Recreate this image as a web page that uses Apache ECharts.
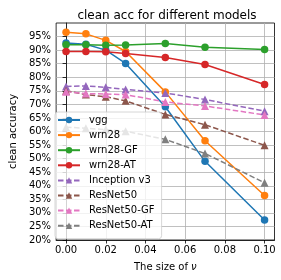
<!DOCTYPE html>
<html>
<head>
<meta charset="utf-8">
<script src="https://cdn.jsdelivr.net/npm/echarts@6/dist/echarts.min.js"></script>
<style>html,body{margin:0;padding:0;background:#fff}#c{width:281px;height:280px}</style>
</head>
<body>
<div id="c"></div>
<script>
var xs = [0.00, 0.01, 0.02, 0.03, 0.05, 0.07, 0.10];
var xTicks = [0.00, 0.02, 0.04, 0.06, 0.08, 0.10];
var yTicks = [20,25,30,35,40,45,50,55,60,65,70,75,80,85,90,95];
var names = ['vgg','wrn28','wrn28-GF','wrn28-AT','Inception v3','ResNet50','ResNet50-GF','ResNet50-AT'];
var vgg        = [92.6, 92.2, 90.0, 85.1, 69.1, 49.0, 27.4];
var wrn28      = [96.6, 96.0, 93.6, 89.5, 74.6, 56.6, 36.4];
var wrn28GF    = [92.0, 92.0, 91.8, 91.9, 92.4, 91.1, 90.2];
var wrn28AT    = [89.5, 89.5, 89.4, 88.8, 87.3, 84.7, 77.3];
var inception  = [76.6, 76.8, 76.3, 75.5, 74.2, 71.8, 67.5];
var resnet50   = [75.0, 73.6, 72.8, 71.3, 66.3, 62.5, 54.9];
var resnet50GF = [74.7, 74.0, 73.8, 73.6, 70.9, 69.4, 66.1];
var resnet50AT = [61.6, 61.2, 60.7, 60.1, 57.1, 51.9, 41.1];
var values = [vgg, wrn28, wrn28GF, wrn28AT, inception, resnet50, resnet50GF, resnet50AT];
var colors = ['#1f77b4','#ff7f0e','#2ca02c','#d62728','#9467bd','#8c564b','#e377c2','#7f7f7f'];

var series = names.map(function(n, i){
  var dashed = i >= 4;
  return {
    name: n, type: 'line',
    data: xs.map(function(x, j){ return [x, values[i][j]]; }),
    symbol: dashed ? 'triangle' : 'circle',
    symbolSize: dashed ? 8 : 7.5,
    showAllSymbol: true,
    lineStyle: {color: colors[i], width: 1.5, type: dashed ? [5.5, 2.5] : 'solid'},
    itemStyle: {color: colors[i], borderWidth: 0},
    emphasis: {disabled: true},
    animation: false
  };
});

var chart = echarts.init(document.getElementById('c'));
var font = 'DejaVu Sans';
chart.setOption({
  animation: false,
  title: {text: 'clean acc for different models', left: 162, top: 5, textAlign: 'center',
    textStyle: {fontFamily: font, fontSize: 12, fontWeight: 'normal', color: '#000'}},
  grid: {left: 49.5, right: 6.5, top: 23, bottom: 40, show: true, borderColor: '#000', borderWidth: 0.8, backgroundColor: 'transparent'},
  legend: {
    orient: 'vertical', left: 55, top: 112,
    data: names,
    itemWidth: 22, itemHeight: 8, itemGap: 5.1,
    padding: [3, 7, 8, 2],
    backgroundColor: 'rgba(255,255,255,0.8)', borderColor: '#cccccc', borderWidth: 0.8, borderRadius: 3,
    textStyle: {fontFamily: font, fontSize: 10, lineHeight: 10, height: 10, color: '#000', padding: [0,0,0,4]},
    selectedMode: false
  },
  xAxis: {
    type: 'value', min: -0.005, max: 0.105,
    name: 'The size of {i|\u03bd}', nameLocation: 'middle', nameGap: 22,
    nameTextStyle: {fontFamily: font, fontSize: 10, color: '#000',
      rich: {i: {fontFamily: font, fontSize: 10, fontStyle: 'italic', color: '#000'}}},
    axisLine: {show: true, lineStyle: {color: '#000', width: 0.8}},
    axisTick: {show: true, inside: false, length: 3.5, lineStyle: {color: '#000', width: 0.8}, customValues: xTicks},
    axisLabel: {fontFamily: font, fontSize: 10, color: '#000', margin: 5, customValues: xTicks,
      formatter: function(v){ return v.toFixed(2); }},
    splitLine: {show: true, lineStyle: {color: '#b0b0b0', width: 0.8}}
  },
  yAxis: {
    type: 'value', min: 20, max: 100, interval: 5,
    name: 'clean accuracy', nameLocation: 'middle', nameGap: 34,
    nameTextStyle: {fontFamily: font, fontSize: 10, color: '#000'},
    axisLine: {show: true, lineStyle: {color: '#000', width: 0.8}},
    axisTick: {show: true, inside: false, length: 3.5, lineStyle: {color: '#000', width: 0.8}, customValues: yTicks},
    axisLabel: {fontFamily: font, fontSize: 10, color: '#000', margin: 5, customValues: yTicks,
      formatter: function(v){ return Math.round(v) + '%'; }},
    splitLine: {show: true, lineStyle: {color: '#b0b0b0', width: 0.8}}
  },
  series: series
});
</script>
</body>
</html>
